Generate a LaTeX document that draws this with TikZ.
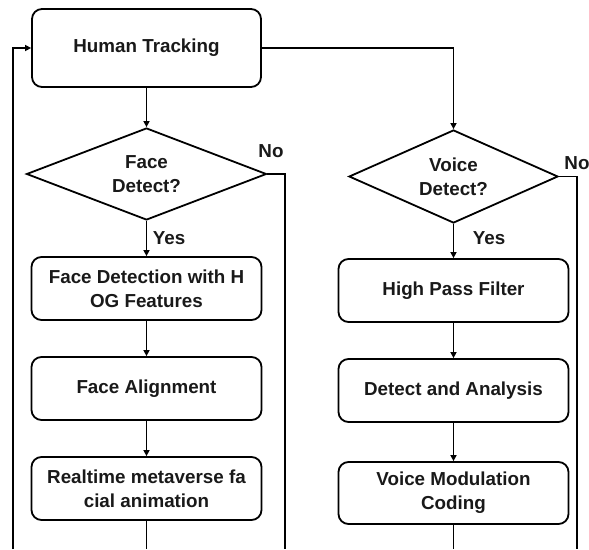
\documentclass[tikz,border=0pt]{standalone}
\usepackage{fontspec}
\setmainfont{Liberation Sans}
\usetikzlibrary{shapes.geometric,arrows.meta}
\begin{document}
\begin{tikzpicture}[x=1pt,y=-1pt,
  every node/.style={font=\fontsize{18.8}{24}\selectfont\bfseries, text=black!90},
  procbox/.style={draw, line width=1.8pt, rounded corners=10pt, minimum width=230pt, align=center, inner sep=0pt},
  decide/.style={draw, line width=1.8pt, diamond, inner sep=0pt, align=center},
  lbl/.style={inner sep=0pt},
  conn/.style={line width=1.8pt},
  arr/.style={conn, -{Triangle[length=6pt,width=6pt]}}]
\useasboundingbox (0,0) rectangle (589,549);
\node[procbox, minimum height=78pt, minimum width=229pt] (ht) at (146.5,48) {Human Tracking};
\node[decide, shape aspect=2.6, minimum width=240pt, minimum height=92pt] (face) at (146.5,174) {Face\\Detect?};
\node[decide, shape aspect=2.25, minimum width=209pt, minimum height=93pt] (voice) at (453.5,176.5) {Voice\\Detect?};
\node[procbox, minimum height=63pt] (fd) at (146.5,288.5) {Face Detection with H\\OG Features};
\node[procbox, minimum height=63pt] (fa) at (146.5,388.5) {Face Alignment};
\node[procbox, minimum height=63pt] (rt) at (146.5,488.5) {Realtime metaverse fa\\cial animation};
\node[procbox, minimum height=63pt] (hp) at (453.5,290.5) {High Pass Filter};
\node[procbox, minimum height=63pt] (da) at (453.5,390.5) {Detect and Analysis};
\node[procbox, minimum height=62pt] (vm) at (453.5,493) {Voice Modulation\\Coding};
\node[lbl] (facenolbl) at (271,151) {No};
\node[lbl] (faceyeslbl) at (169,238) {Yes};
\node[lbl] (voicenolbl) at (577,163) {No};
\node[lbl] (voiceyeslbl) at (489,238) {Yes};
\coordinate (loopbot) at (13,549);
\coordinate (rtbot) at (146.5,549);
\coordinate (facenobot) at (285,549);
\coordinate (vmbot) at (453.5,549);
\coordinate (voicenobot) at (577,549);
\draw[arr] (loopbot) |- (ht.west);
\draw[arr] (ht.south) -- (face.north);
\draw[arr] (ht.east) -| (voice.north);
\draw[arr] (face.south) -- (fd.north);
\draw[arr] (fd.south) -- (fa.north);
\draw[arr] (fa.south) -- (rt.north);
\draw[conn] (rt.south) -- (rtbot);
\draw[conn] (face.east) -| (facenobot);
\draw[arr] (voice.south) -- (hp.north);
\draw[arr] (hp.south) -- (da.north);
\draw[arr] (da.south) -- (vm.north);
\draw[conn] (vm.south) -- (vmbot);
\draw[conn] (voice.east) -| (voicenobot);
\end{tikzpicture}
\end{document}
